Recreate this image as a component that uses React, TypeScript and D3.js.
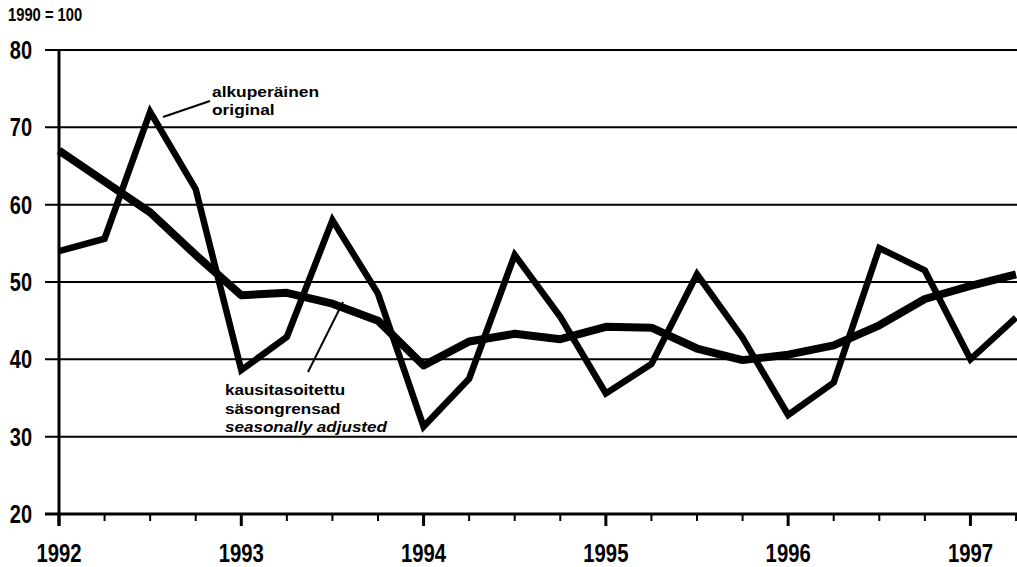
import React from 'react'
import * as d3 from 'd3'

// quarterly points, 1992 Q1 .. 1997 Q2
const quarters = d3.range(0, 22).map(i => 1992 + i * 0.25)
const original = [54, 55.6, 72, 62, 38.6, 42.9, 58, 48.5, 31.3, 37.5, 53.5, 45.5, 35.6, 39.4, 51, 42.8, 32.8, 37, 54.4, 51.5, 40, 45.4]
const adjusted = [67, 63, 59, 53.5, 48.3, 48.6, 47.2, 45, 39.2, 42.3, 43.3, 42.6, 44.2, 44.1, 41.4, 39.9, 40.6, 41.8, 44.4, 47.8, 49.5, 51]
const yearTicks = [1992, 1993, 1994, 1995, 1996, 1997]
const yTicks = [20, 30, 40, 50, 60, 70, 80]

const W = 1017
const H = 567
const FONT = '"Liberation Sans", Arial, sans-serif'

// narrow bold text, squeezed horizontally like the condensed face of the original
function Narrow({ x, y, size, anchor = 'start', sx = 0.84, italic = false, children }: any) {
  return (
    <text transform={`translate(${x},${y}) scale(${sx},1)`} textAnchor={anchor} fontSize={size}
      fontWeight="bold" fontStyle={italic ? 'italic' : 'normal'}>
      {children}
    </text>
  )
}

export default function App() {
  const x = d3.scaleLinear().domain([1992, 1997.25]).range([59, 1016])
  const y = d3.scaleLinear().domain([20, 80]).range([514, 50])

  const line = d3.line<number>()
    .x((d, i) => x(quarters[i]))
    .y(d => y(d))

  const minor = quarters.filter(q => q % 1 !== 0)

  return (
    <svg width={W} height={H} style={{ position: 'absolute', left: 0, top: 0, background: '#fff' }}
      fontFamily={FONT}>
      <Narrow x={8} y={21} size={18} sx={0.82}>1990 = 100</Narrow>

      {yTicks.map(t => (
        <g key={t}>
          <line x1={45} x2={W} y1={y(t)} y2={y(t)} stroke="#000" strokeWidth={t === 20 ? 3 : 2} />
          <Narrow x={32} y={y(t) + 9} size={25} sx={0.8} anchor="end">{t}</Narrow>
        </g>
      ))}

      <line x1={x(1992)} x2={x(1992)} y1={y(80)} y2={y(20) + 12} stroke="#000" strokeWidth={3} />

      {yearTicks.map(t => (
        <g key={t}>
          <line x1={x(t)} x2={x(t)} y1={y(20)} y2={y(20) + 12} stroke="#000" strokeWidth={3} />
          <Narrow x={x(t)} y={562} size={26} sx={0.78} anchor="middle">{t}</Narrow>
        </g>
      ))}
      {minor.map(t => (
        <line key={t} x1={x(t)} x2={x(t)} y1={y(20)} y2={y(20) + 7} stroke="#000" strokeWidth={2} />
      ))}

      <path d={line(adjusted) ?? ''} fill="none" stroke="#000" strokeWidth={8} strokeLinejoin="round" />
      <path d={line(original) ?? ''} fill="none" stroke="#000" strokeWidth={6.5} strokeLinejoin="miter" />

      {/* annotations */}
      <line x1={163} y1={117} x2={210} y2={101} stroke="#000" strokeWidth={2} />
      <Narrow x={212} y={97} size={15.5} sx={1.12}>alkuperäinen</Narrow>
      <Narrow x={212} y={115} size={15.5} sx={1.12}>original</Narrow>

      <line x1={308} y1={372} x2={343} y2={302} stroke="#000" strokeWidth={2} />
      <Narrow x={225} y={395} size={15.5} sx={1.1}>kausitasoitettu</Narrow>
      <Narrow x={225} y={413.5} size={15.5} sx={1.1}>säsongrensad</Narrow>
      <Narrow x={225} y={432} size={15.5} sx={1.1} italic>seasonally adjusted</Narrow>
    </svg>
  )
}
